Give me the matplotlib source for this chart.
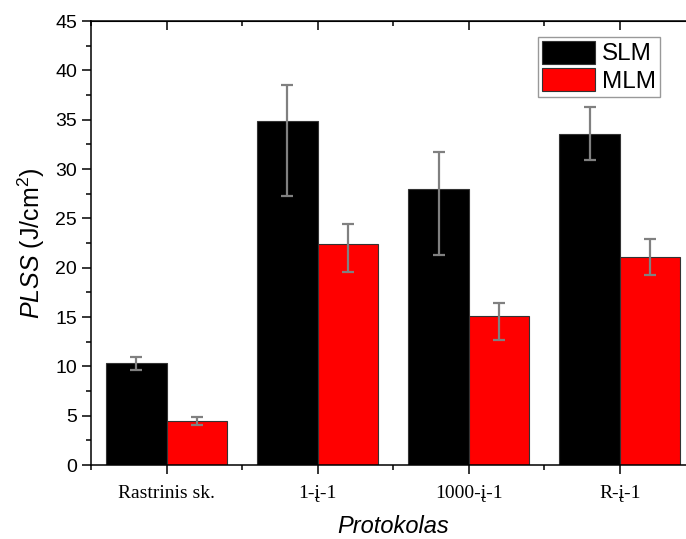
import numpy as np
import matplotlib
matplotlib.use("Agg")
import matplotlib.pyplot as plt
from matplotlib.ticker import MultipleLocator

plt.rcParams["font.family"] = ["Liberation Sans", "DejaVu Sans"]
plt.rcParams["mathtext.fontset"] = "custom"
plt.rcParams["mathtext.rm"] = "Liberation Sans"
plt.rcParams["mathtext.it"] = "Liberation Sans:italic"

# Data
protocols = ["Rastrinis sk.", "1-į-1", "1000-į-1", "R-į-1"]
slm = [10.3, 34.9, 28.0, 33.55]
slm_low = [9.6, 27.3, 21.3, 30.9]
slm_high = [10.95, 38.55, 31.7, 36.25]
mlm = [4.5, 22.35, 15.15, 21.1]
mlm_low = [4.1, 19.6, 12.65, 19.3]
mlm_high = [4.9, 24.4, 16.45, 22.95]

x = np.arange(len(protocols))
w = 0.4
err_kw = dict(ecolor="#808080", elinewidth=1.6, capsize=4, capthick=1.6)

fig = plt.figure(figsize=(6.86, 5.39), dpi=100)
ax = fig.add_axes([91 / 686, (539 - 465) / 539, 604.5 / 686, 444 / 539])

slm_err = [np.array(slm) - np.array(slm_low), np.array(slm_high) - np.array(slm)]
mlm_err = [np.array(mlm) - np.array(mlm_low), np.array(mlm_high) - np.array(mlm)]

ax.bar(x - w / 2, slm, w, color="black", edgecolor="#333333", linewidth=0.8,
       yerr=slm_err, error_kw=err_kw, label="SLM")
ax.bar(x + w / 2, mlm, w, color="#ff0000", edgecolor="#333333", linewidth=0.8,
       yerr=mlm_err, error_kw=err_kw, label="MLM")

ax.set_xlim(-0.5, 3.5)
ax.set_ylim(0, 45)
ax.set_xticks(x)
ax.set_xticklabels(protocols, fontfamily="Liberation Serif", fontsize=14)
ax.xaxis.set_minor_locator(MultipleLocator(0.5))
ax.yaxis.set_major_locator(MultipleLocator(5))
ax.yaxis.set_minor_locator(MultipleLocator(2.5))
ax.tick_params(axis="y", labelsize=14)
ax.tick_params(which="major", direction="out", length=6.5, width=1.1)
ax.tick_params(which="minor", direction="out", length=3.5, width=1.1)
ax.tick_params(axis="x", which="minor", labelbottom=False)
ax.tick_params(axis="x", pad=8)

for s in ax.spines.values():
    s.set_linewidth(1.1)

# top and right ticks point inward
top = ax.secondary_xaxis("top")
top.set_xticks(x)
top.xaxis.set_minor_locator(MultipleLocator(0.5))
top.tick_params(which="major", direction="in", length=6.5, width=1.1, labeltop=False)
top.tick_params(which="minor", direction="in", length=3.5, width=1.1)
right = ax.secondary_yaxis("right")
right.yaxis.set_major_locator(MultipleLocator(5))
right.yaxis.set_minor_locator(MultipleLocator(2.5))
right.tick_params(which="major", direction="in", length=6.5, width=1.1, labelright=False)
right.tick_params(which="minor", direction="in", length=3.5, width=1.1)

ax.set_ylabel(r"$\mathit{PLSS}$ (J/cm$^{2}$)", fontsize=18, labelpad=6)
ax.set_xlabel("Protokolas", fontsize=17, fontstyle="italic", labelpad=9)

leg = ax.legend(loc="upper right", bbox_to_anchor=(660 / 686, 1 - 37 / 539),
                bbox_transform=fig.transFigure, fontsize=17.5, frameon=True,
                fancybox=False, edgecolor="#808080", handlelength=2.2,
                handleheight=1.07, handletextpad=0.3, labelspacing=0.12,
                borderpad=0.15, borderaxespad=0)
leg.get_frame().set_linewidth(1.0)

fig.savefig("out.png", dpi=100)
